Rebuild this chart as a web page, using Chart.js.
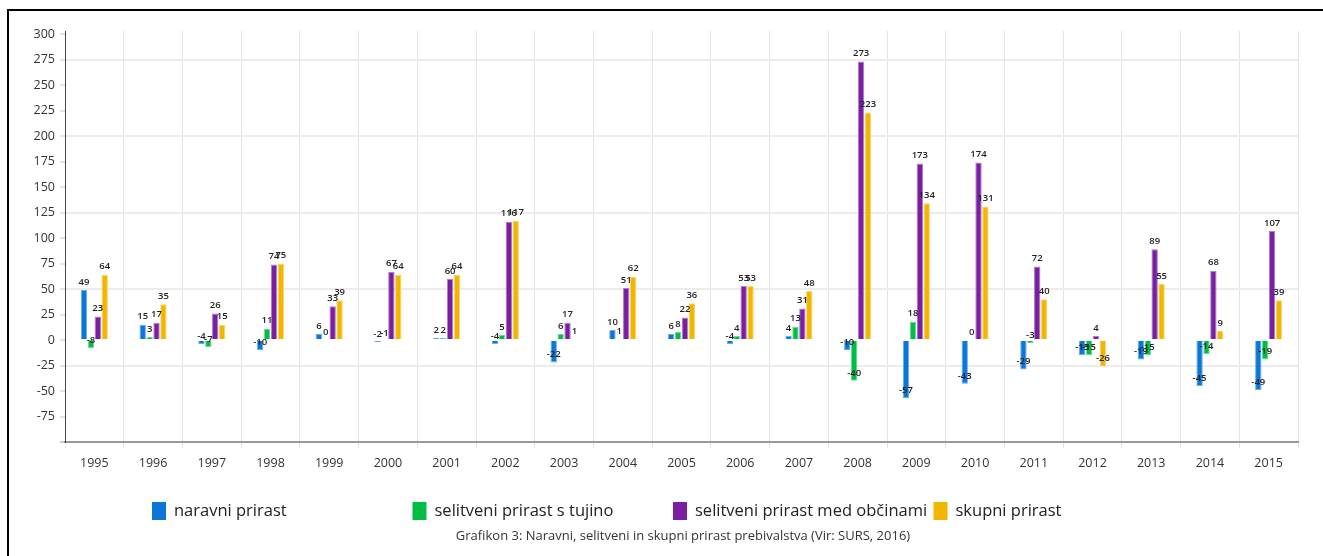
<!DOCTYPE html>
<html>
<head>
<meta charset="utf-8">
<script src="https://cdn.jsdelivr.net/npm/chart.js@4.4.0/dist/chart.umd.min.js"></script>
<style>
  html, body { margin: 0; padding: 0; background: #fff; }
  #wrap { position: relative; width: 1323px; height: 556px; overflow: hidden; }
  #frame { position: absolute; left: 7px; top: 9px; right: -10px; bottom: -10px;
           border-left: 2px solid #000; border-top: 2px solid #000; pointer-events: none; }
  canvas { position: absolute; left: 0; top: 0; }
</style>
</head>
<body>
<div id="wrap">
  <canvas id="c" width="1323" height="556"></canvas>
  <div id="frame"></div>
</div>
<script>
const years = ['1995','1996','1997','1998','1999','2000','2001','2002','2003','2004','2005','2006','2007','2008','2009','2010','2011','2012','2013','2014','2015'];
const naravniPrirast   = [49, 15, -4, -10, 6, -2, 2, -4, -22, 10, 6, -4, 4, -10, -57, -43, -29, -15, -19, -45, -49];
const selitveniTujina  = [-8, 3, -7, 11, 0, -1, 2, 5, 6, 1, 8, 4, 13, -40, 18, 0, -3, -15, -15, -14, -19];
const selitveniObcine  = [23, 17, 26, 74, 33, 67, 60, 116, 17, 51, 22, 53, 31, 273, 173, 174, 72, 4, 89, 68, 107];
const skupniPrirast    = [64, 35, 15, 75, 39, 64, 64, 117, 1, 62, 36, 53, 48, 223, 134, 131, 40, -26, 55, 9, 39];
const seriesNames = ['naravni prirast', 'selitveni prirast s tujino', 'selitveni prirast med občinami', 'skupni prirast'];
const yTickValues = [-100, -75, -50, -25, 0, 25, 50, 75, 100, 125, 150, 175, 200, 225, 250, 275, 300];
const caption = 'Grafikon 3: Naravni, selitveni in skupni prirast prebivalstva (Vir: SURS, 2016)';

const FONT = "'Open Sans', 'DejaVu Sans', sans-serif";
const colors  = ['#0a76d8', '#00bd45', '#7a1fa2', '#f2b600'];
const borders = ['#6aaee9', '#6edb95', '#b07fcb', '#f8d56e'];

const barLabels = {
  id: 'barLabels',
  afterDatasetsDraw(chart) {
    const ctx = chart.ctx;
    ctx.save();
    ctx.font = "600 9.5px " + FONT;
    ctx.fillStyle = '#222';
    ctx.textAlign = 'center';
    ctx.textBaseline = 'middle';
    chart.data.datasets.forEach((ds, di) => {
      const meta = chart.getDatasetMeta(di);
      meta.data.forEach((el, i) => {
        ctx.fillText(String(ds.data[i]), el.x, el.y - 8);
      });
    });
    ctx.restore();
  }
};

const fixedLegend = {
  id: 'fixedLegend',
  afterDraw(chart, args, opts) {
    const ctx = chart.ctx;
    ctx.save();
    chart.data.datasets.forEach((ds, i) => {
      const x = opts.startX + i * opts.step;
      ctx.fillStyle = ds.backgroundColor;
      ctx.fillRect(x, opts.y - 9, 14, 18);
      ctx.fillStyle = '#222';
      ctx.font = "16.5px " + FONT;
      ctx.textAlign = 'left';
      ctx.textBaseline = 'middle';
      ctx.fillText(ds.label, x + 22, opts.y);
    });
    ctx.font = "13px " + FONT;
    ctx.fillStyle = '#333';
    ctx.textAlign = 'center';
    ctx.fillText(caption, opts.captionX, opts.captionY);
    ctx.restore();
  }
};

const dataSeries = [naravniPrirast, selitveniTujina, selitveniObcine, skupniPrirast];

new Chart(document.getElementById('c'), {
  type: 'bar',
  data: {
    labels: years,
    datasets: dataSeries.map((d, i) => ({
      label: seriesNames[i],
      data: d,
      backgroundColor: colors[i],
      borderColor: borders[i],
      borderWidth: 1,
      categoryPercentage: 0.47,
      barPercentage: 0.93
    }))
  },
  options: {
    responsive: false,
    animation: false,
    layout: { padding: { left: 0, top: 31, right: 25, bottom: 0 } },
    plugins: {
      legend: { display: false },
      tooltip: { enabled: false },
      fixedLegend: { startX: 152, step: 260.5, y: 511, captionX: 683, captionY: 536 }
    },
    scales: {
      x: {
        offset: true,
        grid: { offset: true, color: '#e3e3e3', lineWidth: 1, tickLength: 6, tickColor: '#e3e3e3' },
        border: { color: '#999', width: 2 },
        ticks: { color: '#333', font: { family: FONT, size: 12.5 }, padding: 8, maxRotation: 0 },
        afterFit(scale) { scale.height = 114; }
      },
      y: {
        min: -100,
        max: 303,
        afterBuildTicks(scale) { scale.ticks = yTickValues.map(v => ({ value: v })); },
        grid: {
          color: ctx => {
            const v = ctx.tick ? ctx.tick.value : null;
            return (v !== null && v > -100 && ((v - 275) % 75 === 0)) ? '#ececec' : 'rgba(0,0,0,0)';
          },
          lineWidth: 2,
          tickLength: 5,
          tickColor: ctx => (ctx.tick && ctx.tick.value === -100) ? '#999' : '#c8c8c8',
          tickWidth: 1
        },
        border: { color: '#444', width: 1 },
        ticks: {
          color: '#333',
          font: { family: FONT, size: 12.5 },
          padding: 5,
          callback: v => (v === -100 ? '' : String(v))
        },
        afterFit(scale) { scale.width = 65; }
      }
    }
  },
  plugins: [barLabels, fixedLegend]
});
</script>
</body>
</html>
